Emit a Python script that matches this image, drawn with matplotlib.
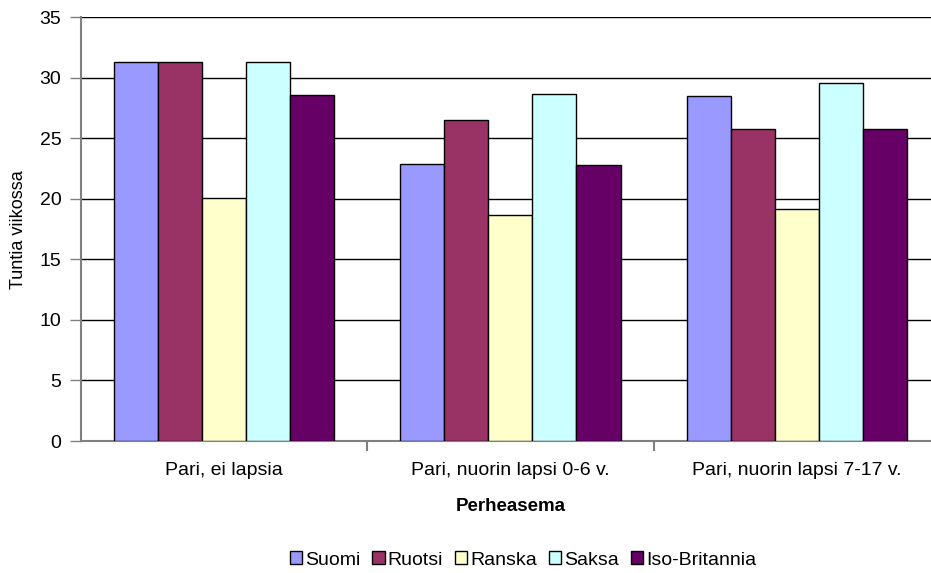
import numpy as np
import matplotlib.pyplot as plt

plt.rcParams['font.family'] = ['Liberation Sans', 'DejaVu Sans']

# Perheasema categories and countries
categories = ['Pari, ei lapsia', 'Pari, nuorin lapsi 0-6 v.', 'Pari, nuorin lapsi 7-17 v.']
countries = ['Suomi', 'Ruotsi', 'Ranska', 'Saksa', 'Iso-Britannia']
colors = ['#9999FF', '#993366', '#FFFFCC', '#CCFFFF', '#660066']

# hours per week, one list per country
suomi = [31.3, 22.9, 28.5]
ruotsi = [31.3, 26.5, 25.8]
ranska = [20.1, 18.7, 19.2]
saksa = [31.3, 28.7, 29.6]
iso_britannia = [28.6, 22.8, 25.8]
values = [suomi, ruotsi, ranska, saksa, iso_britannia]

fig = plt.figure(figsize=(9.31, 5.73), dpi=100)
# plot area runs a little past the right edge of the picture, like the original
ax = fig.add_axes([80.7 / 931, 1 - 441 / 573, (940 - 80.7) / 931, (441 - 17.3) / 573])

x = np.arange(len(categories))
nbar = len(countries)
width = 1.0 / (nbar + 1.5)
for i, (name, vals) in enumerate(zip(countries, values)):
  offs = (i - (nbar - 1) / 2) * width
  ax.bar(x + offs, vals, width=width, color=colors[i], edgecolor='black',
         linewidth=1.0, label=name, zorder=3)

ax.set_xlim(-0.5, len(categories) - 0.5)
ax.set_ylim(0, 35)
ax.set_yticks(np.arange(0, 36, 5))
ax.yaxis.grid(True, color='black', linewidth=1.0, zorder=0)
ax.set_axisbelow(True)

# category labels centred, ticks at category boundaries
ax.set_xticks(x)
ax.set_xticklabels(categories, fontsize=14)
ax.tick_params(axis='x', length=0, pad=15)
ax.set_xticks(np.arange(0.5, len(categories) - 0.5, 1), minor=True)
ax.tick_params(axis='x', which='minor', length=7, width=1.5, color='#808080')
ax.tick_params(axis='y', labelsize=14, length=8, width=1, color='#808080', pad=6)

for s in ['top', 'right']:
  ax.spines[s].set_visible(False)
ax.spines['left'].set_color('#808080')
ax.spines['left'].set_linewidth(1.5)
ax.spines['bottom'].set_color('#808080')
ax.spines['bottom'].set_linewidth(1.5)

ax.set_ylabel('Tuntia viikossa', fontsize=13, labelpad=9)
ax.set_xlabel('Perheasema', fontsize=13.5, fontweight='bold', labelpad=14)

fig.legend(loc='center', bbox_to_anchor=(523 / 931, 13 / 573), ncol=5, frameon=False,
           fontsize=14, handlelength=0.65, handleheight=0.65, handletextpad=0.15,
           columnspacing=0.6, borderpad=0)

plt.savefig('out.png', dpi=100)
